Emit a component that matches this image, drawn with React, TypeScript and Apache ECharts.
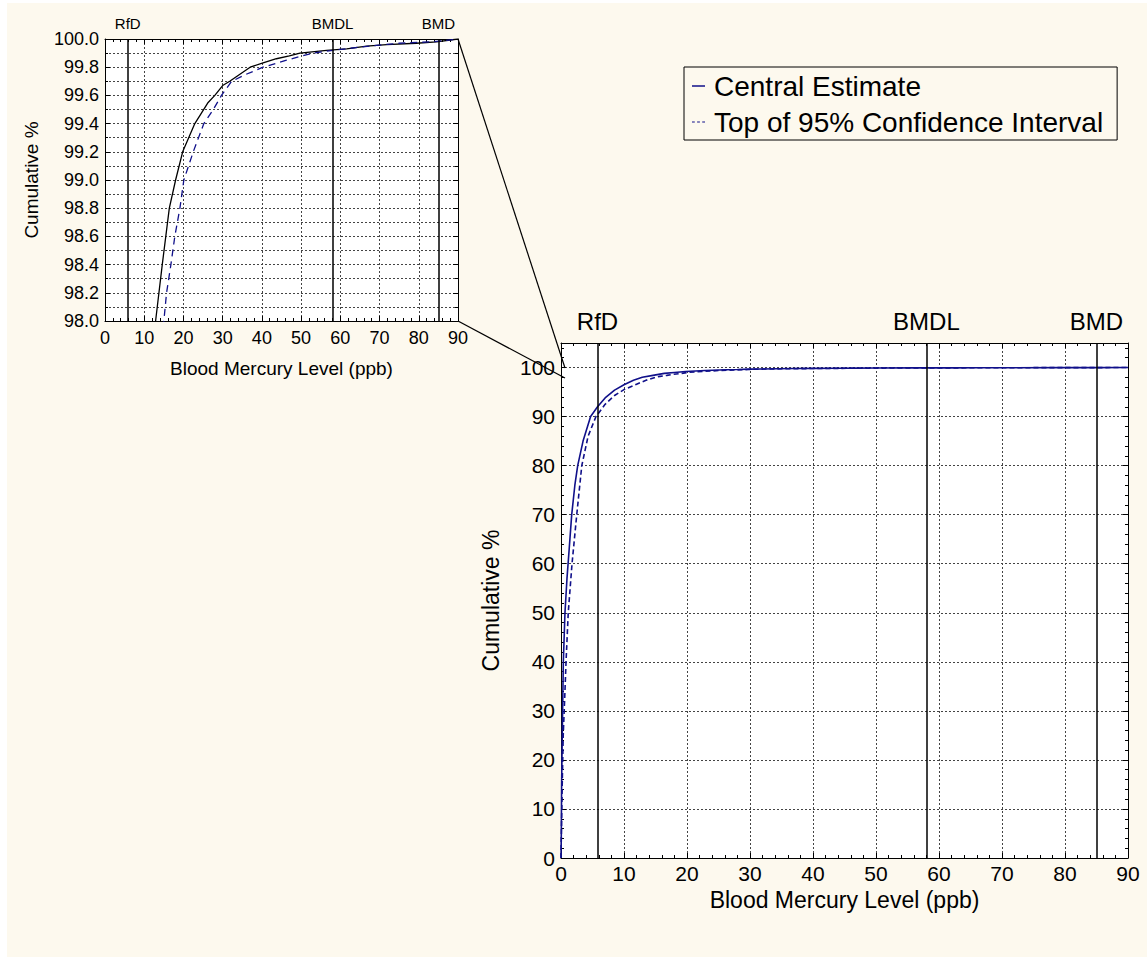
import React, { useEffect, useRef } from "react";
import * as echarts from "echarts";

// Blood mercury level (ppb) and cumulative % — central estimate
const centralX = [0, 0.05, 0.1, 0.2, 0.37, 0.63, 0.95, 1.3, 1.7, 2.2, 2.65, 3.5, 4.7, 5.8, 7, 8.5, 10, 11.5, 12.9, 14.6, 16.4, 18, 19.8, 22.9, 26.3, 28, 30, 31.8, 37, 40.3, 43.7, 47, 49.7, 56.5, 61.6, 66.7, 71.8, 79.4, 84.5, 90];
const centralY = [0, 5, 15, 25, 40, 50, 57, 63, 70, 76, 80, 85, 90, 92, 93.8, 95.4, 96.5, 97.4, 98.0, 98.4, 98.8, 99.0, 99.2, 99.4, 99.55, 99.6, 99.67, 99.7, 99.8, 99.83, 99.86, 99.88, 99.9, 99.92, 99.93, 99.95, 99.96, 99.97, 99.98, 100];

// Top of 95% confidence interval
const ciX = [0, 0.05, 0.15, 0.35, 0.6, 0.8, 1.15, 1.75, 2.5, 3.3, 4.3, 5.55, 7, 8.5, 10, 12, 13.5, 15, 15.7, 16.8, 17.8, 19.1, 20.1, 22.5, 25.2, 27.6, 29.7, 32.3, 36, 40.3, 46.3, 53, 58.1, 67.5, 75, 83.6, 90];
const ciY = [0, 4, 12, 25, 33, 40, 50, 60, 70, 80, 86, 90, 92.5, 94.3, 95.5, 96.6, 97.4, 98.0, 98.2, 98.4, 98.6, 98.8, 99.0, 99.2, 99.4, 99.5, 99.6, 99.7, 99.75, 99.8, 99.85, 99.9, 99.92, 99.95, 99.97, 99.98, 100];

// Reference levels
const markerNames = ["RfD", "BMDL", "BMD"];
const markerX = [5.8, 58, 85];

const seriesNames = ["Central Estimate", "Top of 95% Confidence Interval"];
const xTitle = "Blood Mercury Level (ppb)";
const yTitle = "Cumulative %";

const FONT = "'Liberation Sans', Arial, sans-serif";
const NAVY = "#10108a";
const GRID_DOT = { color: "#444", width: 1, type: [2, 2] as number[] };

const zip = (xs: number[], ys: number[]) => xs.map((x, i) => [x, ys[i]]);

function frameAxis(extra: any) {
  return {
    type: "value",
    axisLine: { show: true, onZero: false, lineStyle: { color: "#000", width: 1 } },
    axisTick: { show: true, inside: true, length: 5, lineStyle: { color: "#000" } },
    minorTick: { show: true, splitNumber: 5, length: 3, lineStyle: { color: "#000" } },
    ...extra,
  };
}

export default function App() {
  const ref = useRef<HTMLDivElement>(null);
  useEffect(() => {
    if (!ref.current) return;
    const chart = echarts.init(ref.current, null, { renderer: "svg" });
    const markLine = (fontSize: number, distance: number) => ({
      silent: true,
      symbol: "none",
      animation: false,
      lineStyle: { color: "#000", width: 1.5, type: "solid" },
      label: { show: true, position: "end", formatter: "{b}", fontSize, fontFamily: FONT, color: "#000", distance },
      data: markerX.map((v, i) => ({ xAxis: v, name: markerNames[i] })),
    });
    const insetLabel = { fontSize: 18, fontFamily: FONT, color: "#000" };
    const mainLabel = { fontSize: 21, fontFamily: FONT, color: "#000" };
    chart.setOption({
      animation: false,
      backgroundColor: "#fdf9ee",
      grid: [
        { left: 98, top: 36, width: 353, height: 282, show: true, backgroundColor: "#fff", borderWidth: 0 },
        { left: 554, top: 340, width: 567, height: 515, show: true, backgroundColor: "#fff", borderWidth: 0 },
      ],
      xAxis: [
        frameAxis({
          gridIndex: 0, min: 0, max: 90, interval: 10, position: "bottom",
          splitLine: { show: true, lineStyle: GRID_DOT },
          axisLabel: { ...insetLabel, margin: 8 },
          name: xTitle, nameLocation: "middle", nameGap: 38,
          nameTextStyle: { fontSize: 19, fontFamily: FONT, color: "#000" },
        }),
        frameAxis({ gridIndex: 0, min: 0, max: 90, interval: 10, position: "top", axisLabel: { show: false }, splitLine: { show: false } }),
        frameAxis({
          gridIndex: 1, min: 0, max: 90, interval: 10, position: "bottom",
          splitLine: { show: true, lineStyle: GRID_DOT },
          axisLabel: { ...mainLabel, margin: 5 },
          name: xTitle, nameLocation: "middle", nameGap: 29,
          nameTextStyle: { fontSize: 23, fontFamily: FONT, color: "#000" },
        }),
        frameAxis({ gridIndex: 1, min: 0, max: 90, interval: 10, position: "top", axisLabel: { show: false }, splitLine: { show: false } }),
      ],
      yAxis: [
        frameAxis({
          gridIndex: 0, min: 98, max: 100, interval: 0.2, position: "left",
          minorTick: { show: true, splitNumber: 2, length: 3, lineStyle: { color: "#000" } },
          splitLine: { show: true, lineStyle: GRID_DOT },
          minorSplitLine: { show: true, lineStyle: GRID_DOT },
          axisLabel: { ...insetLabel, margin: 6, formatter: (v: number) => v.toFixed(1) },
          name: yTitle, nameLocation: "middle", nameGap: 64,
          nameTextStyle: { fontSize: 19, fontFamily: FONT, color: "#000" },
        }),
        frameAxis({
          gridIndex: 0, min: 98, max: 100, interval: 0.2, position: "right",
          minorTick: { show: true, splitNumber: 2, length: 3, lineStyle: { color: "#000" } },
          axisLabel: { show: false }, splitLine: { show: false },
        }),
        frameAxis({
          gridIndex: 1, min: 0, max: 105, interval: 10, position: "left",
          splitLine: { show: true, lineStyle: GRID_DOT },
          axisLabel: { ...mainLabel, margin: 6, formatter: (v: number) => (v % 10 === 0 ? String(v) : "") },
          name: yTitle, nameLocation: "middle", nameGap: 59,
          nameTextStyle: { fontSize: 23, fontFamily: FONT, color: "#000" },
        }),
        frameAxis({ gridIndex: 1, min: 0, max: 105, interval: 10, position: "right", axisLabel: { show: false }, splitLine: { show: false } }),
      ],
      legend: {
        show: true,
        data: [
          { name: seriesNames[0], icon: "rect" },
          { name: seriesNames[1], icon: "path://M0,0h3v1h-3zM5.5,0h3v1h-3zM11,0h3v1h-3z" },
        ],
        orient: "vertical",
        left: 677,
        top: 64,
        padding: [5, 14, 4, 8],
        itemGap: 8,
        itemWidth: 13,
        itemHeight: 1.5,
        borderColor: "#000",
        borderWidth: 1,
        backgroundColor: "transparent",
        textStyle: { fontSize: 28, fontFamily: FONT, color: "#000", padding: [0, 0, 0, 4] },
      },
      graphic: [
        { type: "line", shape: { x1: 451, y1: 36, x2: 558, y2: 365 }, style: { stroke: "#000", lineWidth: 1.2 }, z: 100 },
        { type: "line", shape: { x1: 451, y1: 318, x2: 558, y2: 375 }, style: { stroke: "#000", lineWidth: 1.2 }, z: 100 },
      ],
      series: [
        {
          name: "Central Estimate (detail)", type: "line", xAxisIndex: 0, yAxisIndex: 0,
          data: zip(centralX, centralY), symbol: "none", clip: true,
          lineStyle: { color: "#000", width: 1.3 }, itemStyle: { color: "#000" },
          markLine: markLine(15, 8),
        },
        {
          name: "Top of 95% Confidence Interval (detail)", type: "line", xAxisIndex: 0, yAxisIndex: 0,
          data: zip(ciX, ciY), symbol: "none", clip: true,
          lineStyle: { color: NAVY, width: 1.3, type: [7, 5] }, itemStyle: { color: NAVY },
        },
        {
          name: seriesNames[0], type: "line", xAxisIndex: 2, yAxisIndex: 2,
          data: zip(centralX, centralY), symbol: "none", clip: true,
          lineStyle: { color: NAVY, width: 1.6 }, itemStyle: { color: NAVY },
          markLine: markLine(24, 10),
        },
        {
          name: seriesNames[1], type: "line", xAxisIndex: 2, yAxisIndex: 2,
          data: zip(ciX, ciY), symbol: "none", clip: true,
          lineStyle: { color: NAVY, width: 1.6, type: [5, 3] }, itemStyle: { color: NAVY },
        },
      ],
    });
    return () => chart.dispose();
  }, []);
  return (
    <div style={{ position: "fixed", left: 0, top: 0, width: 1147, height: 957, background: "#fff" }}>
      <div ref={ref} style={{ position: "absolute", left: 7, top: 3, width: 1140, height: 954 }} />
    </div>
  );
}
